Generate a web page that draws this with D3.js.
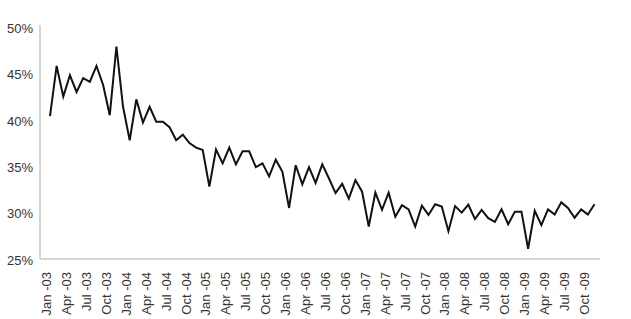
<!DOCTYPE html>
<html>
<head>
<meta charset="utf-8">
<script src="https://cdn.jsdelivr.net/npm/d3@7"></script>
<style>
  body { margin: 0; background: #fff; }
  svg { display: block; font-family: Lato, "Open Sans", sans-serif; }
  .tick text { fill: #333; font-size: 13px; }
</style>
</head>
<body>
<div class="chart"></div>
<script>
// month names and years used to build the category labels
var monthNames = ['Jan', 'Feb', 'Mar', 'Apr', 'May', 'Jun', 'Jul', 'Aug', 'Sep', 'Oct', 'Nov', 'Dec'];
var years = ['03', '04', '05', '06', '07', '08', '09'];

// monthly share (%), Jan-03 .. Nov-09
var share = [
  40.4, 45.8, 42.5, 44.8, 43.0, 44.5, 44.1, 45.8, 43.75, 40.5, 47.9, 41.4,
  37.8, 42.2, 39.7, 41.4, 39.8, 39.8, 39.2, 37.8, 38.4, 37.5, 37.0, 36.75,
  32.8, 36.8, 35.3, 37.0, 35.2, 36.6, 36.6, 34.9, 35.3, 33.9, 35.7, 34.4,
  30.5, 35.1, 33.05, 34.9, 33.2, 35.2, 33.7, 32.1, 33.1, 31.5, 33.5, 32.25,
  28.5, 32.15, 30.3, 32.15, 29.55, 30.8, 30.35, 28.5, 30.75, 29.75, 30.9, 30.65,
  28.0, 30.7, 30.0, 30.85, 29.3, 30.3, 29.4, 29.0, 30.35, 28.75, 30.1, 30.1,
  26.1, 30.2, 28.65, 30.35, 29.8, 31.1, 30.5, 29.45, 30.35, 29.8, 30.9
];

var yTicks = [25, 30, 35, 40, 45, 50];

var months = [];
years.forEach(function (y) {
  monthNames.forEach(function (m) { months.push(m + ' -' + y); });
});
months = months.slice(0, share.length);

var width = 631, height = 319;

var svg = d3.select('.chart').append('svg')
  .attr('width', width)
  .attr('height', height);

var x = d3.scalePoint().domain(months).range([50, 594.5]);
var y = d3.scaleLinear().domain([25, 50]).range([259, 27]);

// y axis
var yAxis = svg.append('g')
  .attr('transform', 'translate(40,0)')
  .call(d3.axisLeft(y).tickValues(yTicks).tickSize(0).tickPadding(7)
    .tickFormat(function (d) { return d + '%'; }));
yAxis.select('.domain').attr('stroke', '#c8c8c8').attr('stroke-width', 1.5)
  .attr('d', 'M0,25V259');
yAxis.selectAll('text').attr('dy', '0.4em');

// x axis
var xAxis = svg.append('g')
  .attr('transform', 'translate(0,259)')
  .call(d3.axisBottom(x)
    .tickValues(months.filter(function (d, i) { return i % 3 === 0; }))
    .tickSize(0));
xAxis.select('.domain').attr('stroke', '#c8c8c8').attr('stroke-width', 1.5)
  .attr('d', 'M40,0H600');
xAxis.selectAll('text')
  .attr('text-anchor', 'end')
  .attr('transform', 'rotate(-90)')
  .attr('x', -13)
  .attr('y', -4)
  .attr('dy', '0.35em');

// line
var line = d3.line()
  .x(function (d, i) { return x(months[i]); })
  .y(function (d) { return y(d); });

svg.append('path')
  .datum(share)
  .attr('fill', 'none')
  .attr('stroke', '#111')
  .attr('stroke-width', 2)
  .attr('stroke-linejoin', 'miter')
  .attr('d', line);
</script>
</body>
</html>
